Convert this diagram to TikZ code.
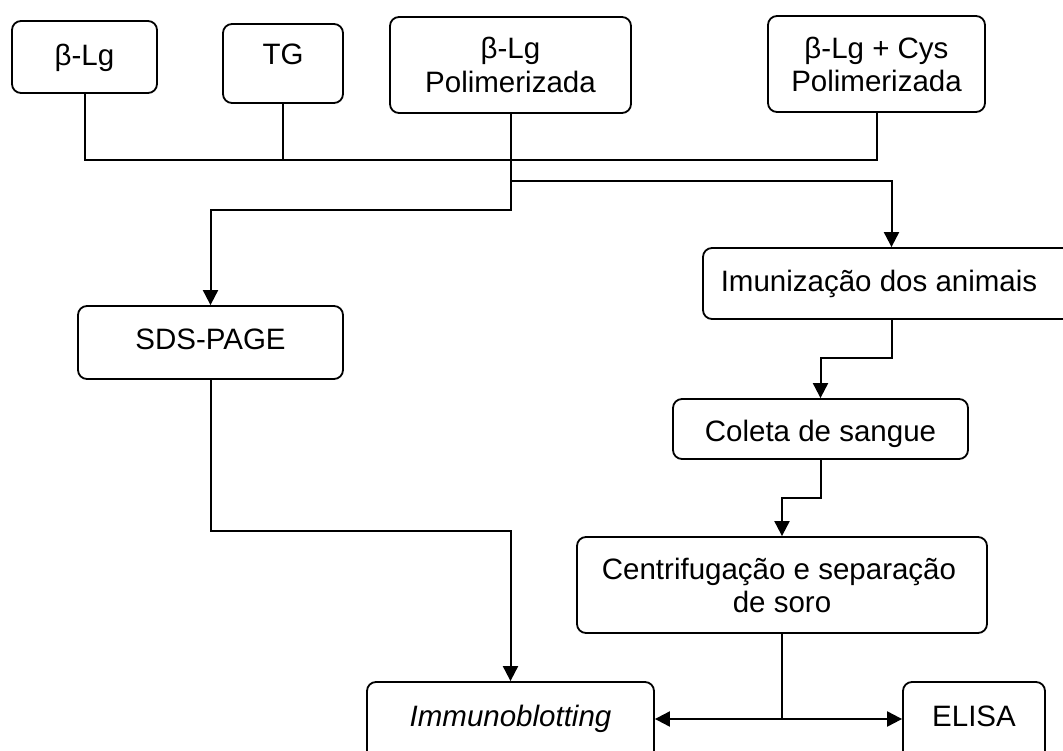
\documentclass[tikz,border=0pt]{standalone}
\usepackage{fontspec}
\setmainfont{Liberation Sans}
\usetikzlibrary{arrows.meta}
\begin{document}
\begin{tikzpicture}[x=1pt,y=-1pt,
  box/.style={draw, line width=1.8pt, rounded corners=9pt, inner sep=0pt},
  txt/.style={anchor=base, font=\fontsize{29.5}{32}\selectfont, inner sep=0pt},
  conn/.style={line width=2pt},
  arr/.style={conn, -{Triangle[length=15pt,width=15pt]}}]
\useasboundingbox[fill=white] (0,0) rectangle (1063,751);
\clip (0,0) rectangle (1063,751);
% boxes
\node[box, minimum width=145pt, minimum height=72pt] (b1) at (84.5,57) {};
\node[txt] (t1) at (84.5,66) {β-Lg};
\node[box, minimum width=120pt, minimum height=79pt] (tg) at (283,63.5) {};
\node[txt] (t2) at (283,65) {TG};
\node[box, minimum width=241pt, minimum height=96pt] (bp) at (510.5,65) {};
\node[txt] (t3a) at (510.5,59) {β-Lg};
\node[txt] (t3b) at (510.5,93) {Polimerizada};
\node[box, minimum width=217pt, minimum height=96pt] (bc) at (876.5,64) {};
\node[txt] (t4a) at (876.5,59) {β-Lg + Cys};
\node[txt] (t4b) at (876.5,92) {Polimerizada};
\node[box, minimum width=377pt, minimum height=71pt] (im) at (891.5,283.5) {};
\node[txt] (t5) at (879,292) {Imunização dos animais};
\node[box, minimum width=265pt, minimum height=73pt] (sds) at (210.5,342.5) {};
\node[txt] (t6) at (210.5,349) {SDS-PAGE};
\node[box, minimum width=295pt, minimum height=60pt] (col) at (820.5,429) {};
\node[txt] (t7) at (820.5,441) {Coleta de sangue};
\node[box, minimum width=410pt, minimum height=96pt] (cen) at (782,585) {};
\node[txt] (t8a) at (779,579) {Centrifugação e separação};
\node[txt] (t8b) at (782,612) {de soro};
\node[box, minimum width=287pt, minimum height=108pt] (imb) at (510.5,736) {};
\node[txt] (t9) at (510.5,726) {\itshape Immunoblotting};
\node[box, minimum width=142pt, minimum height=108pt] (el) at (974,736) {};
\node[txt] (t10) at (974,726) {ELISA};
% junctions
\coordinate (j1) at (84.5,160);
\coordinate (j2) at (510.5,181);
\coordinate (j3) at (782,719);
% connectors
\draw[conn] (b1.south) -- (j1) -- (bc.south |- j1) -- (bc.south);
\draw[conn] (tg.south) -- (tg.south |- j1);
\draw[arr] (bp.south) -- (bp.south |- 0,210) -| (sds.north);
\draw[arr] (j2) -| (im.north);
\draw[arr] (im.south) -- (im.south |- 0,358) -| (col.north);
\draw[arr] (col.south) -- (col.south |- 0,498) -| (cen.north);
\draw[arr] (sds.south) -- (sds.south |- 0,531) -| (imb.north);
\draw[conn] (cen.south) -- (j3);
\draw[arr] (j3) -- (imb.east |- j3);
\draw[arr] (j3) -- (el.west |- j3);
\end{tikzpicture}
\end{document}
